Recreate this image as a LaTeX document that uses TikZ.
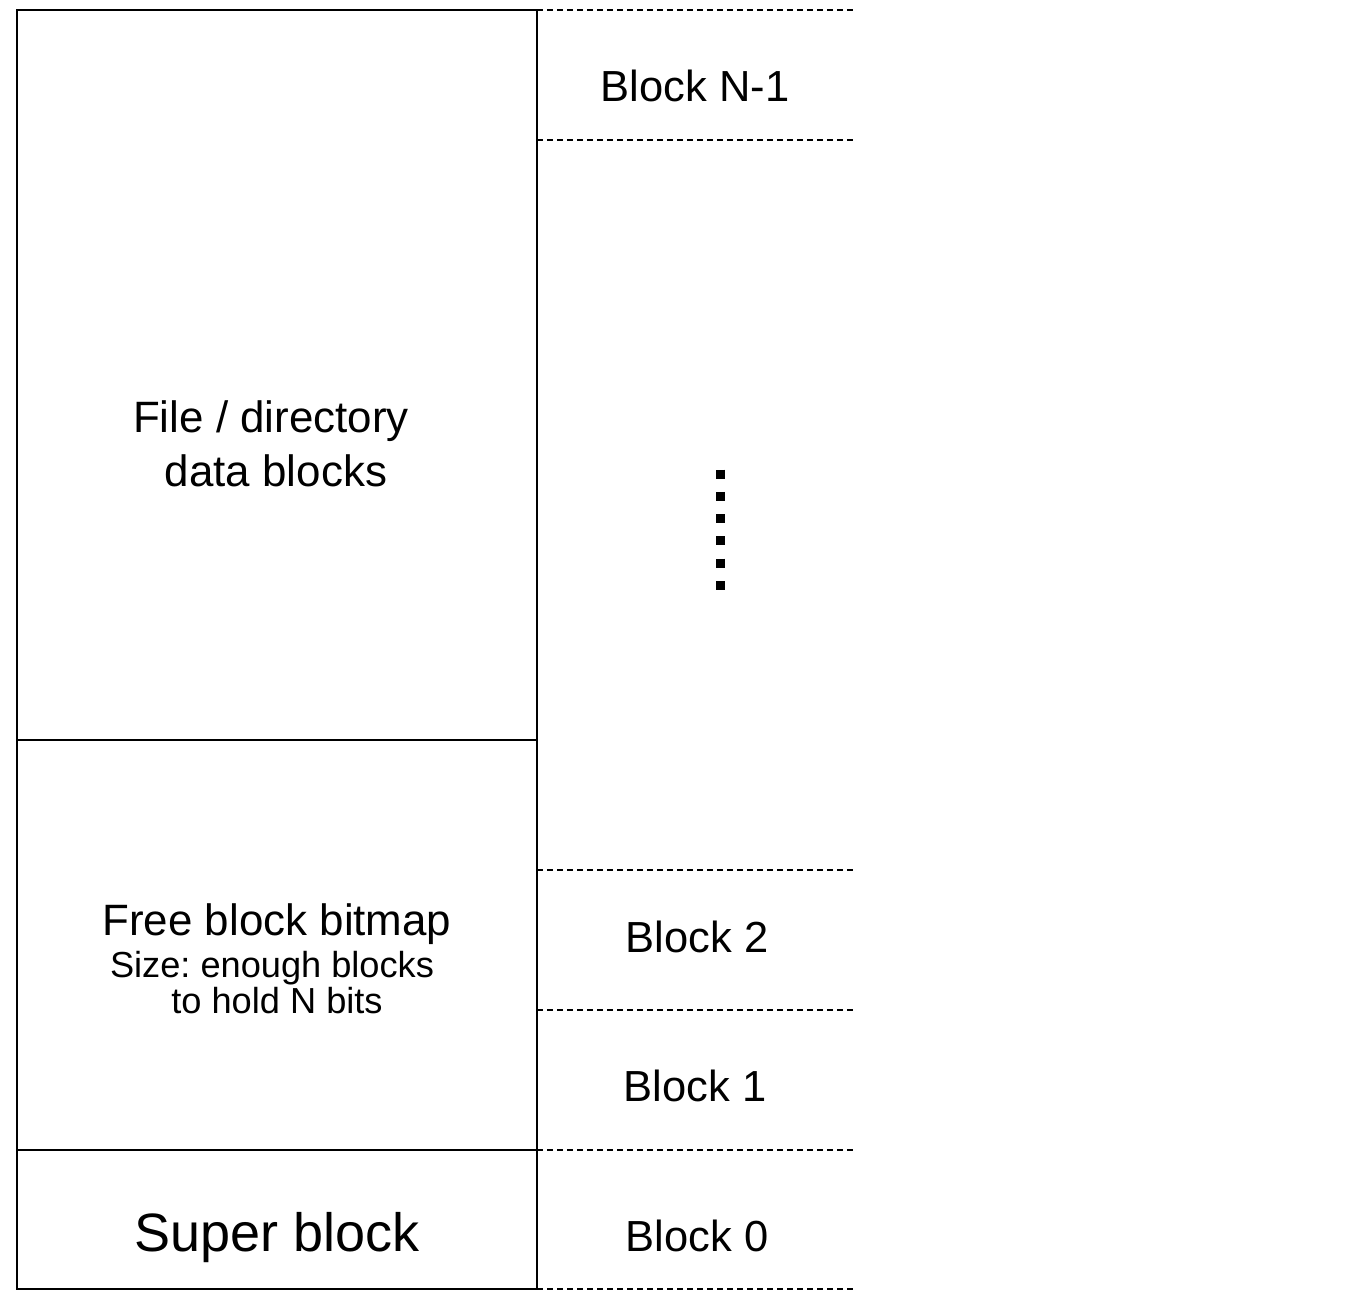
\documentclass[tikz,border=0pt]{standalone}
\usepackage{fontspec}
\setmainfont{Liberation Sans}
\frenchspacing
\begin{document}
\begin{tikzpicture}[x=1pt,y=-1pt,
  region/.style={draw=black, line width=1.8pt, anchor=north west, inner sep=0pt, outer sep=0pt},
  blkline/.style={draw=black, line width=1.3pt, dash pattern=on 6pt off 4pt},
  lbl/.style={anchor=base, inner sep=0pt, font=\fontsize{43.5}{48}\selectfont},
  small/.style={anchor=base, inner sep=0pt, font=\fontsize{36.2}{40}\selectfont}]
\useasboundingbox[fill=white] (0,0) rectangle (1358,1306);
% regions
\node[region, minimum width=520pt, minimum height=730pt] (data) at (17,10) {};
\node[region, minimum width=520pt, minimum height=410pt] (bitmap) at (17,740) {};
\node[region, minimum width=520pt, minimum height=139pt] (super) at (17,1150) {};
% block boundaries
\coordinate (b0) at (537,1289); \coordinate (e0) at (855,1289);
\coordinate (b1) at (537,1150); \coordinate (e1) at (855,1150);
\coordinate (b2) at (537,1010); \coordinate (e2) at (855,1010);
\coordinate (b3) at (537,870);  \coordinate (e3) at (855,870);
\coordinate (b4) at (537,140);  \coordinate (e4) at (855,140);
\coordinate (b5) at (537,10);   \coordinate (e5) at (855,10);
\foreach \i in {0,...,5} \draw[blkline] (b\i) -- (e\i);
% right edge continuing
\draw[black, line width=1.8pt] (data.north east) -- (super.south east);
% labels
\node[lbl] (tN) at (695,102) {Block N-1};
\node[lbl] (t2) at (697,952) {Block 2};
\node[lbl] (t1) at (695,1101) {Block 1};
\node[lbl] (t0) at (697,1251) {Block 0};
\node[lbl, font=\fontsize{43.9}{48}\selectfont] (d1) at (271,432) {File / directory};
\node[lbl, font=\fontsize{43.9}{48}\selectfont] (d2) at (276,486) {data blocks};
\node[lbl, font=\fontsize{43.9}{48}\selectfont] (f1) at (277,935) {Free block bitmap};
\node[small] (f2) at (272,977) {Size: enough blocks};
\node[small] (f3) at (277,1013) {to hold N bits};
\node[lbl, font=\fontsize{54}{60}\selectfont] (s1) at (277,1251) {Super block};
% vertical ellipsis
\coordinate (dtop) at (720,469.5);
\coordinate (dbot) at (720,595);
\draw[black, line width=9pt, dash pattern=on 9pt off 13.3pt] (dtop) -- (dbot);
\end{tikzpicture}
\end{document}
